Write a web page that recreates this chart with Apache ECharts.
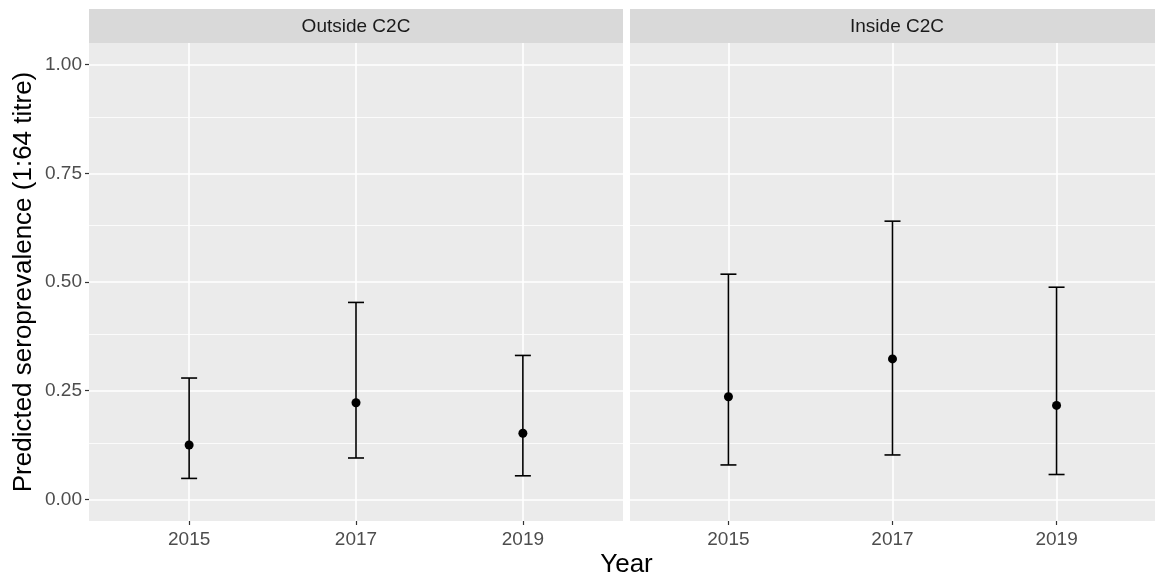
<!DOCTYPE html>
<html>
<head>
<meta charset="utf-8">
<script src="https://cdn.jsdelivr.net/npm/echarts@6/dist/echarts.min.js"></script>
<style>
  html, body { margin: 0; padding: 0; background: #ffffff; }
  #chart { width: 1155px; height: 577px; }
</style>
</head>
<body>
<div id="chart"></div>
<script>
// Facet titles and x categories
const panels = ['Outside C2C', 'Inside C2C'];
const years = ['2015', '2017', '2019'];

// Predicted seroprevalence with lower / upper interval bounds, per facet
const estOutside  = [0.125, 0.222, 0.152];
const lowOutside  = [0.048, 0.095, 0.054];
const highOutside = [0.279, 0.453, 0.331];

const estInside  = [0.236, 0.323, 0.216];
const lowInside  = [0.079, 0.102, 0.057];
const highInside = [0.518, 0.640, 0.488];

// Y axis breaks
const yTicks = [0, 0.25, 0.5, 0.75, 1];

// ---- layout / style ----
const FONT = 'Liberation Sans, Arial, sans-serif';
const PANEL_TOP = 43, PANEL_H = 478, PANEL_W = 534, GAP = 7, LEFT0 = 89;
const STRIP_TOP = 9, STRIP_H = 34;
const PANEL_BG = '#EBEBEB', STRIP_BG = '#D9D9D9';
const TICK_FS = 19, STRIP_FS = 19, TITLE_FS = 26;

const panelLeft = i => LEFT0 + i * (PANEL_W + GAP);
const xIdx = years.map((_, i) => i);
const yMinor = yTicks.slice(1).map((v, i) => (v + yTicks[i]) / 2);

const facetData = [
  { est: estOutside, low: lowOutside, high: highOutside },
  { est: estInside,  low: lowInside,  high: highInside }
];

const grids = panels.map((_, i) => ({
  left: panelLeft(i), top: PANEL_TOP, width: PANEL_W, height: PANEL_H,
  show: true, backgroundColor: PANEL_BG, borderWidth: 0, containLabel: false
}));

const xAxes = panels.map((_, i) => ({
  type: 'value', gridIndex: i, min: -0.6, max: 2.6, position: 'bottom',
  axisLine: { show: false, onZero: false },
  axisTick: { show: true, inside: false, length: 4, customValues: xIdx, lineStyle: { color: '#333333', width: 1.2 } },
  axisLabel: {
    show: true, customValues: xIdx, margin: 9,
    formatter: v => years[Math.round(v)],
    color: '#4D4D4D', fontSize: TICK_FS, fontFamily: FONT
  },
  splitLine: { show: true, lineStyle: { color: '#FFFFFF', width: 1.6 } }
}));

const yAxes = panels.map((_, i) => ({
  type: 'value', gridIndex: i, min: -0.05, max: 1.05, position: 'left',
  axisLine: { show: false, onZero: false },
  axisTick: { show: i === 0, inside: false, length: 4, customValues: yTicks, lineStyle: { color: '#333333', width: 1.2 } },
  axisLabel: {
    show: i === 0, customValues: yTicks, margin: 7,
    formatter: v => v.toFixed(2),
    color: '#4D4D4D', fontSize: TICK_FS, fontFamily: FONT
  },
  splitLine: { show: true, lineStyle: { color: '#FFFFFF', width: 1.6 } },
  name: i === 0 ? 'Predicted seroprevalence (1:64 titre)' : '',
  nameLocation: 'middle', nameRotate: 90, nameGap: 52,
  nameTextStyle: { color: '#000000', fontSize: TITLE_FS, fontFamily: FONT }
}));

const series = [];
panels.forEach((_, i) => {
  const d = facetData[i];
  // minor horizontal gridlines, kept beneath the marks
  series.push({
    type: 'line', xAxisIndex: i, yAxisIndex: i, data: [], silent: true, z: 1,
    markLine: {
      silent: true, symbol: 'none', animation: false, z: 1,
      label: { show: false },
      emphasis: { disabled: true },
      lineStyle: { color: '#FFFFFF', width: 0.8, type: 'solid' },
      data: yMinor.map(v => ({ yAxis: v }))
    }
  });
  // error bars
  series.push({
    type: 'custom', xAxisIndex: i, yAxisIndex: i, z: 6,
    data: xIdx.map(k => [k, d.low[k], d.high[k]]),
    renderItem: (params, api) => {
      const x = api.value(0);
      const lo = api.coord([x, api.value(1)]);
      const hi = api.coord([x, api.value(2)]);
      const hw = 8;
      const st = { stroke: '#000000', lineWidth: 1.6 };
      return {
        type: 'group',
        children: [
          { type: 'line', shape: { x1: lo[0], y1: lo[1], x2: hi[0], y2: hi[1] }, style: st },
          { type: 'line', shape: { x1: lo[0] - hw, y1: lo[1], x2: lo[0] + hw, y2: lo[1] }, style: st },
          { type: 'line', shape: { x1: hi[0] - hw, y1: hi[1], x2: hi[0] + hw, y2: hi[1] }, style: st }
        ]
      };
    }
  });
  // point estimates
  series.push({
    type: 'scatter', xAxisIndex: i, yAxisIndex: i, z: 7,
    symbol: 'circle', symbolSize: 9,
    itemStyle: { color: '#000000', opacity: 1 },
    data: xIdx.map(k => [k, d.est[k]])
  });
});

// facet strips and the shared x title
const graphics = [];
panels.forEach((name, i) => {
  graphics.push({
    type: 'rect', left: panelLeft(i), top: STRIP_TOP,
    shape: { width: PANEL_W, height: STRIP_H },
    style: { fill: STRIP_BG }, silent: true
  });
  graphics.push({
    type: 'text', x: panelLeft(i) + PANEL_W / 2, y: STRIP_TOP + STRIP_H / 2 + 1,
    style: { text: name, fill: '#1A1A1A', font: STRIP_FS + 'px ' + FONT, textAlign: 'center', textVerticalAlign: 'middle' },
    silent: true
  });
});
graphics.push({
  type: 'text', x: LEFT0 + (2 * PANEL_W + GAP) / 2, y: 565,
  style: { text: 'Year', fill: '#000000', font: TITLE_FS + 'px ' + FONT, textAlign: 'center', textVerticalAlign: 'middle' },
  silent: true
});

const chart = echarts.init(document.getElementById('chart'), null, { renderer: 'canvas' });
chart.setOption({
  animation: false,
  backgroundColor: '#FFFFFF',
  grid: grids,
  xAxis: xAxes,
  yAxis: yAxes,
  series: series,
  graphic: graphics
});
</script>
</body>
</html>
